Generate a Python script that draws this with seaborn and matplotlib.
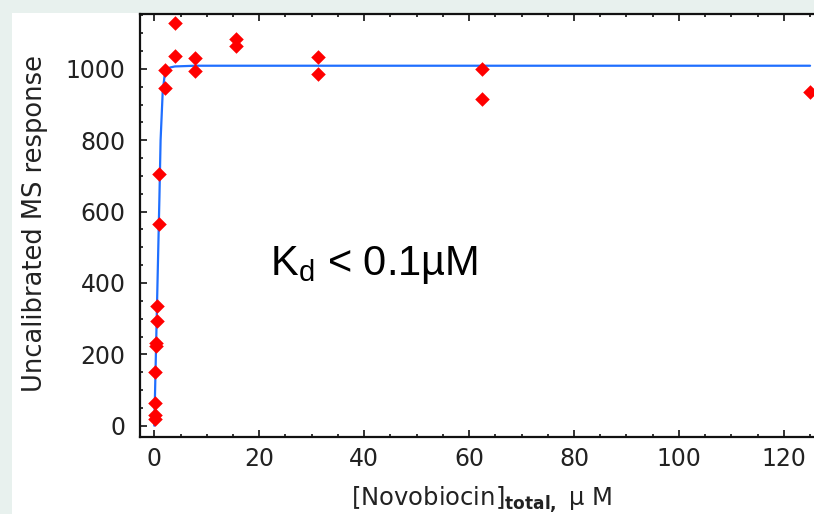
import matplotlib
matplotlib.use("Agg")
import matplotlib.pyplot as plt
from matplotlib.patches import Rectangle
from matplotlib.ticker import MultipleLocator
import seaborn as sns
import pandas as pd

# Measured MS response versus total novobiocin concentration (duplicates)
conc_um = [125, 62.5, 62.5, 31.25, 31.25, 15.63, 15.63, 7.81, 7.81,
           3.91, 3.91, 1.95, 1.95, 0.977, 0.977, 0.488, 0.488,
           0.244, 0.244, 0.122, 0.122, 0.061, 0.061]
ms_response = [936, 1000, 915, 1034, 986, 1083, 1063, 1032, 994,
               1128, 1036, 997, 946, 705, 565, 336, 293,
               232, 222, 151, 63, 30, 18]

# Fitted binding curve
fit_conc = [0, 0.061, 0.122, 0.244, 0.488, 0.977, 1.2, 1.6, 1.95,
            2.5, 3.0, 3.91, 7.81, 15.63, 31.25, 62.5, 125]
fit_resp = [0, 40, 80, 160, 320, 640, 800, 935, 980,
            998, 1004, 1007, 1009, 1009, 1009, 1009, 1009]

x_ticks = [0, 20, 40, 60, 80, 100, 120]
y_ticks = [0, 200, 400, 600, 800, 1000]

points = pd.DataFrame({"conc": conc_um, "resp": ms_response})
curve = pd.DataFrame({"conc": fit_conc, "resp": fit_resp})

sns.set_style("white")
plt.rcParams["font.family"] = ["DejaVu Sans"]

W, H = 814, 514
fig = plt.figure(figsize=(W / 100, H / 100), dpi=100)
fig.patch.set_facecolor("#e8f1ee")
panel = Rectangle((12 / W, 0), 1, 1 - 13 / H, transform=fig.transFigure,
                  facecolor="white", edgecolor="none", zorder=-10)
fig.add_artist(panel)

ax_left, ax_right, ax_top, ax_bottom = 139.5, 830, 14, 437
ax = fig.add_axes([ax_left / W, 1 - ax_bottom / H,
                   (ax_right - ax_left) / W, (ax_bottom - ax_top) / H])
ax.set_facecolor("none")
ax.set_zorder(5)

sns.lineplot(data=curve, x="conc", y="resp", ax=ax, color="#1f6fff",
             linewidth=1.6, estimator=None, sort=False, zorder=2)
sns.scatterplot(data=points, x="conc", y="resp", ax=ax, color="#ff0000",
                marker="D", s=55, linewidth=0, zorder=3)

ax.set_xlim(-2.82, 128.8)
ax.set_ylim(-31.7, 1154)
ax.set_xticks(x_ticks)
ax.set_yticks(y_ticks)
ax.xaxis.set_minor_locator(MultipleLocator(5))
ax.yaxis.set_minor_locator(MultipleLocator(50))

for side in ["left", "bottom", "top"]:
    ax.spines[side].set_visible(True)
    ax.spines[side].set_linewidth(1.6)
    ax.spines[side].set_color("#111111")
ax.spines["right"].set_visible(False)

ax.tick_params(which="both", direction="in", top=True, bottom=True, left=True,
               right=False, color="#111111", width=1.2)
ax.tick_params(which="major", length=5, labelsize=17, labelcolor="#222222")
ax.tick_params(which="minor", length=2.5)
ax.tick_params(axis="x", which="major", pad=7)
ax.tick_params(axis="y", which="major", pad=10)

ax.set_xlabel("")
ax.set_ylabel("")
fig.text(35 / W, 1 - 224 / H, "Uncalibrated MS response", rotation=90,
         ha="center", va="center", fontsize=18.5, color="#222222", zorder=6)
fig.text(481 / W, 1 - 500 / H, r"[Novobiocin]$_{\mathbf{total,}}$ µ M",
         ha="center", va="center", fontsize=17.5, color="#222222", zorder=6)
fig.text(270 / W, 1 - 265 / H, r"K$_\mathregular{d}$ < 0.1µM",
         ha="left", va="center", fontsize=30, color="black",
         family="Liberation Sans", zorder=6)

fig.savefig("out.png", dpi=100)
